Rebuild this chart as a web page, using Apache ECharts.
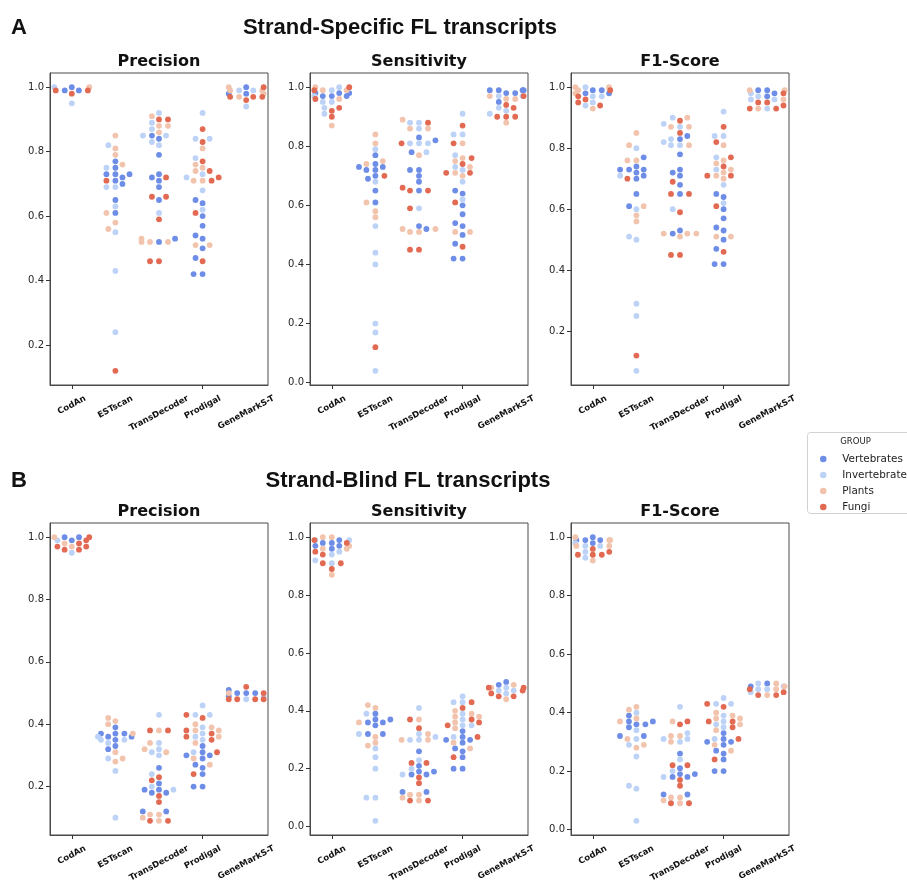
<!DOCTYPE html>
<html><head><meta charset="utf-8">
<script src="https://cdn.jsdelivr.net/npm/echarts@6/dist/echarts.min.js"></script>
<style>html,body{margin:0;padding:0;background:#fff}#c{width:907px;height:882px}</style>
</head><body><div id="c"></div>
<script>
// ---------------- data ----------------
const TOOLS = ['CodAn', 'ESTscan', 'TransDecoder', 'Prodigal', 'GeneMarkS-T'];
const GROUPS = ['Vertebrates', 'Invertebrates', 'Plants', 'Fungi'];
const GROUP_KEYS = ['V', 'I', 'P', 'F'];
const COLORS = ['#6d8de7', '#bcd2f6', '#f2c4ae', '#e26a52'];
const PANEL_TITLES = ['Precision', 'Sensitivity', 'F1-Score'];
const ROW_TITLES = ['Strand-Specific FL transcripts', 'Strand-Blind FL transcripts'];
const ROW_LETTERS = ['A', 'B'];
const Y_TICK_STEP = 0.2;

// A: Strand-Specific — one entry per tool (same order as TOOLS)
const ssPrecision = [
  {V:[0.99,1.00,0.99], I:[1.00,0.95], P:[1.00], F:[0.99,0.98,0.99]},
  {V:[0.73,0.72,0.70,0.77,0.75,0.73,0.65,0.61,0.73,0.71], I:[0.82,0.69,0.63,0.55,0.43,0.24,0.75,0.69], P:[0.76,0.56,0.85,0.81,0.79,0.58,0.61], F:[0.71,0.12]},
  {V:[0.85,0.72,0.84,0.79,0.73,0.71,0.69,0.65,0.52,0.53], I:[0.85,0.89,0.87,0.83,0.61,0.92,0.82,0.85], P:[0.53,0.52,0.52,0.91,0.88,0.86,0.52,0.88], F:[0.46,0.66,0.90,0.59,0.46,0.72,0.66,0.90]},
  {V:[0.65,0.54,0.47,0.42,0.64,0.60,0.57,0.53,0.50,0.42], I:[0.72,0.84,0.78,0.92,0.73,0.68,0.62,0.84], P:[0.71,0.76,0.51,0.81,0.75,0.74,0.51,0.71], F:[0.74,0.61,0.87,0.83,0.77,0.71,0.46,0.72]},
  {V:[0.98,1.00,0.98], I:[0.99,0.94,0.99], P:[0.98,0.99,1.00,0.99,0.97], F:[1.00,0.97,0.97,0.96,0.97]}
];
const ssSensitivity = [
  {V:[0.98,0.97,0.97,0.98,0.98,0.97], I:[0.99,0.97,0.95,0.91,0.95,0.93,1.00], P:[1.00,0.99,0.87,0.96,0.99], F:[0.96,0.93,0.99,0.92,0.90,1.00]},
  {V:[0.61,0.73,0.69,0.77,0.74,0.72,0.65,0.72,0.70,0.73], I:[0.79,0.68,0.53,0.44,0.40,0.20,0.17,0.04], P:[0.75,0.84,0.81,0.61,0.58,0.56,0.74], F:[0.70,0.12]},
  {V:[0.65,0.83,0.72,0.70,0.68,0.53,0.78,0.72,0.52,0.82], I:[0.81,0.81,0.78,0.59,0.88,0.88,0.86,0.81], P:[0.89,0.52,0.86,0.51,0.86,0.77,0.51,0.52], F:[0.66,0.88,0.45,0.81,0.65,0.59,0.45,0.65]},
  {V:[0.65,0.54,0.47,0.42,0.64,0.60,0.57,0.53,0.50,0.42], I:[0.84,0.73,0.91,0.84,0.72,0.68,0.62,0.77], P:[0.76,0.51,0.81,0.70,0.75,0.73,0.51,0.71], F:[0.81,0.71,0.61,0.87,0.76,0.74,0.46,0.71]},
  {V:[0.99,0.98,0.99,0.99,0.95,0.99,0.98], I:[0.97,0.92,0.93,0.97,0.91], P:[0.97,0.96,0.88,0.96], F:[0.93,0.90,0.94,0.90,0.97,0.90]}
];
const ssF1 = [
  {V:[0.98,0.99,0.99,0.98], I:[0.97,0.95,0.94,0.97,1.00], P:[1.00,0.99,0.98,1.00,0.93], F:[0.97,0.95,0.96,0.94,0.99]},
  {V:[0.73,0.73,0.70,0.74,0.72,0.65,0.77,0.73,0.71,0.61], I:[0.71,0.51,0.80,0.60,0.50,0.29,0.25,0.07], P:[0.76,0.61,0.81,0.85,0.76,0.58,0.56], F:[0.70,0.12]},
  {V:[0.72,0.65,0.84,0.52,0.78,0.73,0.71,0.68,0.53,0.83], I:[0.88,0.60,0.87,0.83,0.81,0.90,0.81,0.82], P:[0.52,0.87,0.81,0.90,0.51,0.87,0.52,0.52], F:[0.45,0.69,0.89,0.85,0.65,0.59,0.45,0.65]},
  {V:[0.65,0.54,0.47,0.42,0.64,0.60,0.57,0.53,0.50,0.42], I:[0.84,0.77,0.73,0.92,0.84,0.68,0.62], P:[0.71,0.75,0.51,0.81,0.76,0.72,0.70,0.73,0.51], F:[0.82,0.71,0.61,0.87,0.74,0.46,0.77,0.71]},
  {V:[0.99,0.97,0.99,0.98], I:[0.98,0.96,0.93,0.97,0.96], P:[0.99,0.96,0.99,0.93], F:[0.98,0.93,0.95,0.93,0.95,0.94]}
];
// B: Strand-Blind
const sbPrecision = [
  {V:[1.00,0.99,1.00], I:[0.95,0.99], P:[0.98,1.00,0.97], F:[0.97,0.98,0.96,0.99,0.97,1.00,0.96]},
  {V:[0.37,0.36,0.32,0.39,0.35,0.33,0.37,0.37,0.36], I:[0.36,0.35,0.34,0.25,0.10,0.29,0.35], P:[0.29,0.42,0.40,0.37,0.31,0.28,0.41], F:[]},
  {V:[0.19,0.12,0.18,0.26,0.21,0.18,0.12,0.19], I:[0.24,0.20,0.31,0.43,0.34,0.32,0.30,0.19], P:[0.10,0.32,0.34,0.11,0.38,0.11,0.31,0.09], F:[0.38,0.22,0.09,0.23,0.17,0.15,0.09,0.38]},
  {V:[0.30,0.24,0.20,0.33,0.31,0.29,0.26,0.20,0.30,0.27], I:[0.43,0.46,0.35,0.43,0.39,0.37,0.36,0.31], P:[0.38,0.40,0.36,0.34,0.29,0.27,0.39,0.38], F:[0.36,0.43,0.38,0.31,0.42,0.37,0.24,0.35]},
  {V:[0.50,0.49,0.50,0.50,0.51], I:[0.48,0.49], P:[0.50], F:[0.48,0.52,0.50,0.48,0.48,0.48]}
];
const sbSensitivity = [
  {V:[0.98,0.97,0.97,0.96,0.98,0.99], I:[0.99,0.99,0.95,0.94,0.91,0.92], P:[0.87,1.00,0.96,1.00,0.97,0.96], F:[0.95,0.91,0.99,0.89,0.94,0.91,0.98]},
  {V:[0.37,0.36,0.32,0.32,0.35,0.36,0.39,0.37], I:[0.10,0.39,0.27,0.24,0.20,0.10,0.02,0.32], P:[0.36,0.28,0.41,0.31,0.29,0.42], F:[]},
  {V:[0.19,0.18,0.12,0.21,0.26,0.18,0.19,0.12], I:[0.30,0.23,0.41,0.30,0.20,0.32,0.31,0.18], P:[0.10,0.30,0.32,0.11,0.37,0.11,0.30,0.09], F:[0.09,0.37,0.17,0.34,0.15,0.09,0.22,0.22]},
  {V:[0.27,0.20,0.30,0.26,0.33,0.29,0.24,0.20,0.31,0.30], I:[0.37,0.43,0.45,0.43,0.35,0.31,0.35,0.39], P:[0.39,0.34,0.38,0.40,0.27,0.29,0.38,0.36], F:[0.35,0.31,0.41,0.24,0.36,0.37,0.43]},
  {V:[0.49,0.50], I:[0.48,0.47,0.47,0.46], P:[0.48,0.44,0.49], F:[0.46,0.45,0.47,0.48,0.45,0.48]}
];
const sbF1 = [
  {V:[1.00,0.99,0.99,0.99,0.98], I:[0.98,0.95,0.93,0.97,0.97], P:[0.97,0.99,0.97,0.92,0.99,1.00], F:[0.94,0.94,0.96,0.94,0.95]},
  {V:[0.37,0.35,0.39,0.36,0.32,0.36,0.37,0.32], I:[0.31,0.15,0.34,0.25,0.14,0.03,0.40,0.29], P:[0.29,0.37,0.41,0.31,0.28,0.38,0.42], F:[]},
  {V:[0.19,0.18,0.12,0.21,0.26,0.18,0.19,0.12], I:[0.30,0.42,0.24,0.20,0.33,0.31,0.31,0.18], P:[0.10,0.32,0.37,0.11,0.32,0.30,0.11,0.09], F:[0.09,0.17,0.36,0.15,0.09,0.22,0.37,0.22]},
  {V:[0.27,0.20,0.30,0.26,0.24,0.20,0.33,0.29,0.31,0.30], I:[0.36,0.45,0.35,0.31,0.43,0.43,0.39,0.37], P:[0.39,0.34,0.38,0.40,0.27,0.29,0.38,0.36], F:[0.37,0.31,0.43,0.24,0.42,0.37,0.35]},
  {V:[0.50,0.49], I:[0.49,0.48,0.50,0.48,0.47], P:[0.48,0.50,0.46,0.49], F:[0.47,0.46,0.46,0.48]}
];
const PANELS = [ssPrecision, ssSensitivity, ssF1, sbPrecision, sbSensitivity, sbF1];

// ---------------- layout ----------------
const GRID_LEFTS = [50, 310, 571];
const GRID_TOPS = [73, 523];
const GRID_W = 218, GRID_H = 312;
const BAND = GRID_W / TOOLS.length;
const HALF = 0.4 * BAND;
const RX = 9, RY = 5.2;

// beeswarm layout (seaborn-like): returns pixel x offsets
function swarm(pts, pxPerUnit) {
  const order = pts.map((_, i) => i).sort((a, b) => pts[a].v - pts[b].v);
  const placed = [];
  const xs = new Array(pts.length).fill(0);
  for (const i of order) {
    const y = pts[i].v * pxPerUnit;
    const neigh = placed.filter(p => Math.abs(p.y - y) < RY);
    const cands = [0];
    neigh.forEach(p => {
      const dy = (p.y - y) / RY;
      const off = RX * Math.sqrt(Math.max(0, 1 - dy * dy));
      cands.push(p.x - off, p.x + off);
    });
    const idx = cands.map((c, k) => k).sort((a, b) => (Math.abs(cands[a]) - Math.abs(cands[b])) || (a - b));
    let chosen = cands[idx[idx.length - 1]];
    for (const k of idx) {
      const c = cands[k];
      const ok = neigh.every(p => {
        const dx = (c - p.x) / RX, dy = (y - p.y) / RY;
        return dx * dx + dy * dy >= 1 - 1e-6;
      });
      if (ok) { chosen = c; break; }
    }
    placed.push({x: chosen, y});
    xs[i] = chosen;
  }
  return xs.map(x => Math.max(-HALF, Math.min(HALF, x)));
}

const grids = [], xAxes = [], yAxes = [], series = [], extents = [];
PANELS.forEach((panel, p) => {
  const row = Math.floor(p / 3), col = p % 3;
  grids.push({left: GRID_LEFTS[col], top: GRID_TOPS[row], width: GRID_W, height: GRID_H,
    show: true, borderColor: '#4a4a4a', borderWidth: 1, backgroundColor: 'transparent'});
  const all = [];
  panel.forEach(t => GROUP_KEYS.forEach(k => all.push(...(t[k] || []))));
  const dmin = Math.min(...all), dmax = Math.max(...all), pad = 0.05 * (dmax - dmin);
  const ymin = dmin - pad, ymax = dmax + pad;
  extents.push([ymin, ymax]);
  const ticks = [];
  for (let t = Math.ceil(ymin / Y_TICK_STEP - 1e-9); t * Y_TICK_STEP <= ymax + 1e-9; t++) ticks.push(+(t * Y_TICK_STEP).toFixed(1));
  xAxes.push({type: 'category', gridIndex: p, data: TOOLS, boundaryGap: true, position: 'bottom',
    axisLine: {show: true, onZero: false, lineStyle: {color: '#4a4a4a', width: 1}},
    axisTick: {show: true, alignWithLabel: true, length: 4, lineStyle: {color: '#333'}},
    axisLabel: {show: false}, splitLine: {show: false}});
  xAxes.push({type: 'value', gridIndex: p, min: -0.5, max: 4.5, show: false,
    axisLine: {onZero: false}});
  yAxes.push({type: 'value', gridIndex: p, min: ymin, max: ymax, position: 'left',
    axisLine: {show: true, onZero: false, lineStyle: {color: '#4a4a4a', width: 1}},
    axisTick: {show: true, length: 4, customValues: ticks, lineStyle: {color: '#333'}},
    axisLabel: {show: true, customValues: ticks, formatter: v => Number(v).toFixed(1), fontSize: 10,
      color: '#262626', margin: 6, fontFamily: 'DejaVu Sans'},
    splitLine: {show: false}});
  const pxPerUnit = GRID_H / (ymax - ymin);
  const gdata = GROUP_KEYS.map(() => []);
  panel.forEach((tool, ti) => {
    const pts = [];
    GROUP_KEYS.forEach((k, g) => (tool[k] || []).forEach(v => pts.push({v, g})));
    const xs = swarm(pts, pxPerUnit);
    pts.forEach((pt, i) => gdata[pt.g].push([ti + xs[i] / BAND, pt.v]));
  });
  gdata.forEach((d, g) => series.push({type: 'scatter', name: GROUPS[g], xAxisIndex: 2 * p + 1, yAxisIndex: p,
    data: d, symbol: 'circle', symbolSize: 5.8, itemStyle: {color: COLORS[g], opacity: 1},
    emphasis: {disabled: true}, silent: true}));
});

const chart = echarts.init(document.getElementById('c'), null, {renderer: 'canvas'});
chart.setOption({
  animation: false,
  backgroundColor: '#ffffff',
  grid: grids, xAxis: xAxes, yAxis: yAxes, series,
  legend: {data: GROUPS, orient: 'vertical', left: 815, top: 448, itemWidth: 22, itemHeight: 6.5, itemGap: 4,
    icon: 'circle', selectedMode: false,
    textStyle: {fontSize: 10.4, color: '#222', fontFamily: 'DejaVu Sans', lineHeight: 12, padding: [0, 0, 0, 3]}}
});

// titles and rotated category labels
const ctx = document.createElement('canvas').getContext('2d');
const XL_FONT = 8.5, XL_ROT = 28 * Math.PI / 180;
ctx.font = 'bold ' + XL_FONT + 'px "DejaVu Sans"';
const graphics = [];
ROW_LETTERS.forEach((L, r) => {
  const cy = r === 0 ? 28 : 481;
  graphics.push({type: 'text', x: 11, y: cy, style: {text: L, font: 'bold 22px "Liberation Sans"', fill: '#111', align: 'left', verticalAlign: 'middle'}});
  graphics.push({type: 'text', x: r === 0 ? 400 : 408, y: cy, style: {text: ROW_TITLES[r], font: 'bold 22px "Liberation Sans"', fill: '#111', align: 'center', verticalAlign: 'middle'}});
});
PANELS.forEach((panel, p) => {
  const row = Math.floor(p / 3), col = p % 3;
  const cx = GRID_LEFTS[col] + GRID_W / 2;
  graphics.push({type: 'text', x: cx, y: GRID_TOPS[row] - 11, style: {text: PANEL_TITLES[col], font: 'bold 16px "DejaVu Sans"', fill: '#111', align: 'center', verticalAlign: 'middle'}});
  const yb = chart.convertToPixel({yAxisIndex: p}, extents[p][0]);
  TOOLS.forEach((t, i) => {
    const x = chart.convertToPixel({xAxisIndex: 2 * p + 1}, i);
    const w = ctx.measureText(t).width, h = XL_FONT * 1.05;
    const bh = w * Math.sin(XL_ROT) + h * Math.cos(XL_ROT);
    graphics.push({type: 'text', x: x, y: yb + 9 + bh / 2, rotation: XL_ROT,
      style: {text: t, font: 'bold ' + XL_FONT + 'px "DejaVu Sans"', fill: '#111', align: 'center', verticalAlign: 'middle'}});
  });
});
graphics.push({type: 'rect', shape: {x: 807.5, y: 432.5, width: 120, height: 81, r: 3}, style: {fill: 'none', stroke: '#d2d2d2', lineWidth: 1}});
graphics.push({type: 'text', x: 855.5, y: 442, style: {text: 'GROUP', font: '8.5px "DejaVu Sans"', fill: '#222', align: 'center', verticalAlign: 'middle'}});
chart.setOption({graphic: {elements: graphics}});
</script>
</body></html>
